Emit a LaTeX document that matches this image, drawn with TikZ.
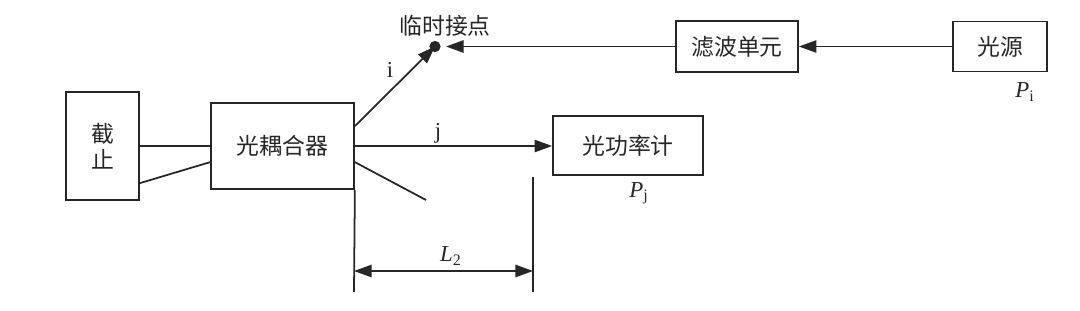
\documentclass[tikz,border=0pt]{standalone}
\usepackage{fontspec}
\setmainfont{Liberation Serif}
\newfontfamily\cjk{Noto Sans CJK SC}
\usetikzlibrary{arrows.meta,calc}
\begin{document}
\begin{tikzpicture}[x=0.02cm,y=-0.02cm,
  line/.style={draw=black!85, line width=1pt},
  box/.style={line, inner sep=0pt, font=\cjk\fontsize{13}{16}\selectfont, text=black!85},
  arr/.style={line, -{Triangle[length=10pt,width=7pt]}},
  darr/.style={line, {Triangle[length=10pt,width=7pt]}-{Triangle[length=10pt,width=7pt]}},
  lab/.style={font=\fontsize{13}{15}\selectfont, text=black!85, inner sep=0pt},
  clab/.style={font=\cjk\fontsize{13}{15}\selectfont, text=black!85, inner sep=0pt}]
\useasboundingbox (0,0) rectangle (1080,311);
% boxes
\node[box, minimum width=1.46cm, minimum height=2.16cm, align=center] (jz) at (102.5,146) {截\\[-1pt]止};
\node[box, minimum width=2.86cm, minimum height=1.72cm] (cp) at (282.5,146) {光耦合器};
\node[box, minimum width=3.0cm, minimum height=1.18cm] (pm) at (628,145.5) {光功率计};
\node[box, minimum width=2.44cm, minimum height=1.02cm] (flt) at (737,46.5) {滤波单元};
\node[box, minimum width=1.88cm, minimum height=1.0cm] (src) at (1000,46.5) {光源};
% junction point
\coordinate (dot) at (435,46.5);
\fill[black!85] (dot) circle (3.2pt);
\node[clab] (tlab) at (445,26) {临时接点};
% stop to coupler
\draw[line] (jz.east) -- (cp.west);
\draw[line] ($(jz.north east)+(0,92)$) -- ($(cp.north west)+(0,60)$);
% outputs of coupler
\draw[arr] ($(cp.north east)+(0,24)$) -- (dot);
\draw[arr] (cp.east) -- (cp.east -| pm.west);
\coordinate (free) at (426,200);
\draw[line] ($(cp.north east)+(0,60)$) -- (free);
\node[lab] (ilab) at (390,70) {i};
\node[lab] (jlab) at (438,133) {j};
% source chain
\draw[arr] (src.west) -- (flt.east);
\draw[arr] (flt.west) -- ($(dot)+(11,0)$);
% dimension
\coordinate (d1) at (354,292);
\coordinate (d2t) at (533,177);
\coordinate (d2) at (533,292);
\draw[line] (cp.south east) -- (d1);
\draw[line] (d2t) -- (d2);
\draw[darr] ($(d1)+(0,-21)$) -- ($(d2)+(0,-21)$);
\node[lab] (L2) at (451,256) {\textit{L}\textsubscript{2}};
\node[lab] (pj) at (639,193) {\textit{P}\textsubscript{j}};
\node[lab] (pi) at (1025,92) {\textit{P}\textsubscript{i}};
\end{tikzpicture}
\end{document}
